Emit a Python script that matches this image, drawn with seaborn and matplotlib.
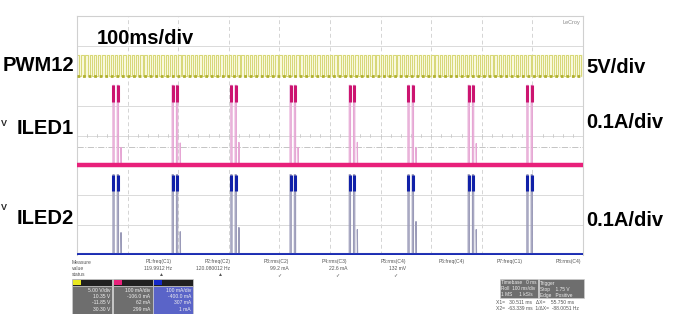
import numpy as np
import pandas as pd
import matplotlib
matplotlib.use("Agg")
import matplotlib.pyplot as plt
from matplotlib.patches import Rectangle
import seaborn as sns

# --- data (time in ms, 100 ms/div, 10 div) ---
burst_start_ms = [71, 188, 304, 421, 538, 654, 773, 889]
pulse_gap_ms = 8.5
pulse_width_ms = 2.5
spike_delay_ms = 16
iled1_peak_ma = 268
iled1_spike_ma = [60, 75, 77, 60, 77, 60, 73, 0]
iled2_peak_ma = 264
iled2_spike_ma = [70, 73, 87, 0, 80, 107, 80, 0]
pwm_freq_hz = 119.9912
pwm_high_v = 3.5

# screen offsets in divisions (8 vertical divisions)
pwm_offset = 6.0
iled1_offset = 3.0
iled2_offset = 0.05

left_labels = ["PWM12", "ILED1", "ILED2"]
right_labels = ["5V/div", "0.1A/div", "0.1A/div"]

measure_names = ["P1:freq(C1)", "P2:freq(C2)", "P3:rms(C2)", "P4:rms(C3)",
                 "P5:rms(C4)", "P6:freq(C4)", "P7:freq(C1)", "P8:rms(C4)"]
measure_values = ["119.9912 Hz", "120.080012 Hz", "99.2 mA", "22.6 mA", "132 mV", "", "", ""]
measure_status = ["\u25b2", "\u25b2", "\u2713", "\u2713", "\u2713", "", "", ""]

ch_colors = ["#e8e820", "#e8207a", "#1428c8"]
ch_lines = [["5.00 V/div", "10.35 V", "-11.85 V", "30.30 V"],
            ["100 mA/div", "-106.0 mA", "62 mA", "299 mA"],
            ["100 mA/div", "-400.0 mA", "307 mA", "1 mA"]]


def pulse_trace(offset, peak_ma, spikes):
    xs, ys = [0.0], [offset]
    for t0, sp in zip(burst_start_ms, spikes):
        for t in (t0, t0 + pulse_gap_ms):
            top = offset + peak_ma / 100
            xs += [t, t, t + pulse_width_ms, t + pulse_width_ms]
            ys += [offset, top, top, offset]
        if sp > 0:
            ts = t0 + spike_delay_ms
            xs += [ts, ts, ts + 0.6]
            ys += [offset, offset + sp / 100, offset]
    xs.append(1000.0)
    ys.append(offset)
    return pd.DataFrame({"t": xs, "y": ys})


sns.set_style("white")
plt.rcParams["font.family"] = ["Liberation Sans", "DejaVu Sans"]

fig = plt.figure(figsize=(6.85, 3.14), dpi=100)
W, H = 685, 314


def fx(x):
    return x / W


def fy(y):
    return 1 - y / H


ax = fig.add_axes([fx(77), fy(255), fx(583) - fx(77), (255 - 16) / H])
ax.set_xlim(0, 1000)
ax.set_ylim(0, 8)

# grid
for i in range(1, 10):
    ax.axvline(i * 100, color="#d4d4d4", lw=0.7, ls=(0, (4, 3)), zorder=0)
for j in range(1, 8):
    ax.axhline(j, color="#dadada", lw=0.7, zorder=0)
ax.axhline(3.61, color="#c4c4c4", lw=0.7, ls="-.", zorder=0)
for k in np.arange(20, 1000, 20):
    ax.plot([k, k], [3.96, 4.04], color="#c8c8c8", lw=0.6, zorder=0)
for s in ax.spines.values():
    s.set_color("#d0d0d0")
    s.set_linewidth(0.8)
ax.spines["bottom"].set_visible(False)
ax.set_xticks([])
ax.set_yticks([])

# PWM square wave
period = 1000 / pwm_freq_hz
edges = np.arange(0, 1000, period)
px, py = [], []
for e in edges:
    px += [e, e, e + period * 0.55, e + period * 0.55]
    py += [pwm_offset, pwm_offset + pwm_high_v / 5, pwm_offset + pwm_high_v / 5, pwm_offset]
pwm = pd.DataFrame({"t": px, "y": py})
ax.fill_between([0, 1000], pwm_offset, pwm_offset + pwm_high_v / 5, color="#f8f8dc", zorder=1)
sns.lineplot(data=pwm, x="t", y="y", sort=False, estimator=None, color="#d2d266", lw=0.6, ax=ax, zorder=2)
ax.plot([0, 1000], [pwm_offset, pwm_offset], color="#b0b030", lw=2, ls=(0, (1, 1)), zorder=3)

# ILED1
d1 = pulse_trace(iled1_offset, iled1_peak_ma, iled1_spike_ma)
sns.lineplot(data=d1, x="t", y="y", sort=False, estimator=None, color="#e6a6d4", lw=0.8, ax=ax, zorder=3)
ax.plot([0, 1000], [iled1_offset, iled1_offset], color="#e8207a", lw=3.2, zorder=4)
for t0 in burst_start_ms:
    top = iled1_offset + iled1_peak_ma / 100
    ax.vlines([t0 + 1, t0 + pulse_gap_ms + 1], top - 0.55, top, color="#cc1470", lw=2.2, zorder=5)

# ILED2
d2 = pulse_trace(iled2_offset, iled2_peak_ma, iled2_spike_ma)
sns.lineplot(data=d2, x="t", y="y", sort=False, estimator=None, color="#9a9ab8", lw=0.8, ax=ax, zorder=3)
ax.plot([0, 1000], [iled2_offset, iled2_offset], color="#1a2cb4", lw=2, zorder=4)
for t0 in burst_start_ms:
    top = iled2_offset + iled2_peak_ma / 100
    ax.vlines([t0 + 1, t0 + pulse_gap_ms + 1], top - 0.55, top, color="#1020a8", lw=2.2, zorder=5)

ax.set_xlabel("")
ax.set_ylabel("")
ax.text(0.995, 0.985, "LeCroy", transform=ax.transAxes, ha="right", va="top",
        fontsize=4, color="#888888")

# big annotations
big = dict(fontsize=14.5, fontweight="bold", color="black")
fig.text(fx(97), fy(38), "100ms/div", ha="left", va="center", **big)
for lab, yy in zip(left_labels, [66, 128, 219]):
    fig.text(fx(74), fy(yy), lab, ha="right", va="center", **big)
for lab, yy in zip(right_labels, [68, 122, 220]):
    fig.text(fx(586), fy(yy), lab, ha="left", va="center", **big)
for yy in [124, 208]:
    fig.text(fx(0.5), fy(yy), "V", ha="left", va="center", fontsize=6.5, fontweight="bold")

# measure table
small = dict(fontsize=3.6, color="#555555")
for i, lab in enumerate(["Measure", "value", "status"]):
    fig.text(fx(72), fy(262 + i * 6.5), lab, ha="left", va="center", **small)
for i, (n, v, s) in enumerate(zip(measure_names, measure_values, measure_status)):
    xc = 172 + i * 58.5
    fig.text(fx(xc), fy(262), n, ha="right", va="center", **small)
    fig.text(fx(xc), fy(268.5), v, ha="right", va="center", **small)
    fig.text(fx(xc - 8), fy(275), s, ha="right", va="center", **small)

# channel boxes
for i, (c, lines) in enumerate(zip(ch_colors, ch_lines)):
    x0 = 72 + i * 40.5
    body = "#5a64c8" if i == 2 else "#6e6e6e"
    fig.add_artist(Rectangle((fx(x0), 0), 40 / W, fy(286), transform=fig.transFigure,
                             facecolor=body, edgecolor="#cccccc", lw=0.5))
    fig.add_artist(Rectangle((fx(x0), fy(286)), 40 / W, 7 / H, transform=fig.transFigure,
                             facecolor="#202020", edgecolor="#cccccc", lw=0.5))
    fig.add_artist(Rectangle((fx(x0 + 1), fy(285)), 8 / W, 5 / H, transform=fig.transFigure,
                             facecolor=c, edgecolor="none"))
    for k, ln in enumerate(lines):
        fig.text(fx(x0 + 38), fy(290 + k * 6.5), ln, ha="right", va="center",
                 fontsize=3.6, color="#f0f0f0")

# timebase / trigger boxes
fig.add_artist(Rectangle((fx(500), fy(298)), 38 / W, 19 / H, transform=fig.transFigure,
                         facecolor="#6e6e6e", edgecolor="#cccccc", lw=0.5))
fig.add_artist(Rectangle((fx(539), fy(298)), 45 / W, 19 / H, transform=fig.transFigure,
                         facecolor="#6e6e6e", edgecolor="#cccccc", lw=0.5))
tb = [("Timebase   0 ms", "Trigger"), ("Roll  100 ms/div", "Stop    1.75 V"),
      ("1 MS     1 kS/s", "Edge   Positive")]
for k, (a, b) in enumerate(tb):
    fig.text(fx(501), fy(283 + k * 6), a, ha="left", va="center", fontsize=3.4, color="#f0f0f0")
    fig.text(fx(540), fy(283 + k * 6), b, ha="left", va="center", fontsize=3.4, color="#f0f0f0")
fig.text(fx(496), fy(302), "X1=   30.511 ms   \u0394X=    55.750 ms", ha="left", va="center",
         fontsize=3.6, color="#555555")
fig.text(fx(496), fy(308), "X2=  -63.339 ms  1/\u0394X=  -88.0051 Hz", ha="left", va="center",
         fontsize=3.6, color="#555555")

fig.savefig("out.png", dpi=100)
